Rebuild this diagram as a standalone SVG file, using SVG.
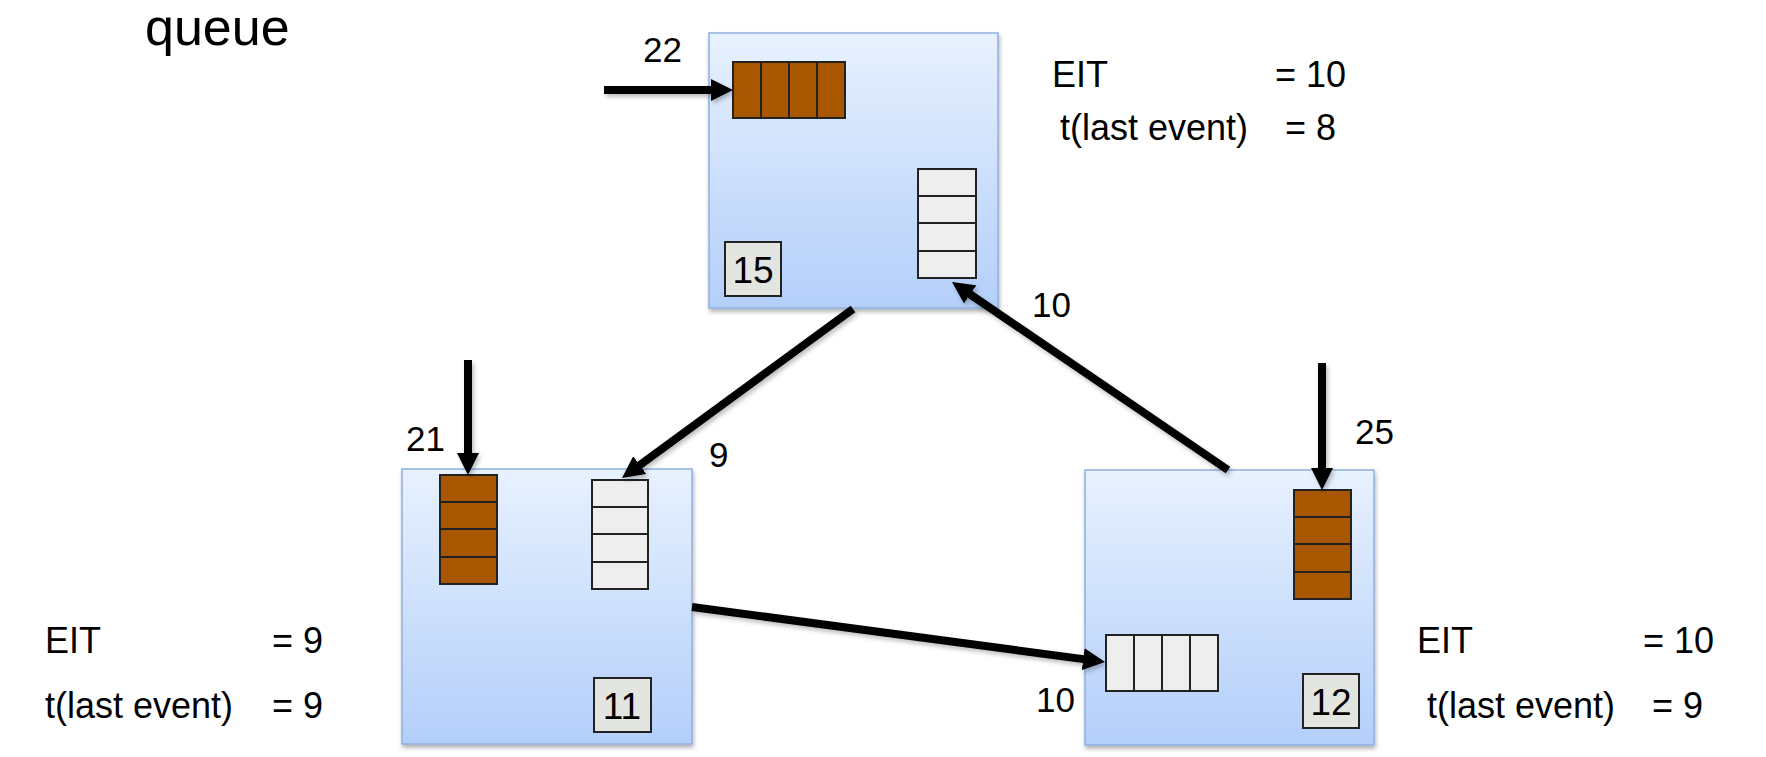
<svg xmlns="http://www.w3.org/2000/svg" width="1766" height="757" viewBox="0 0 1766 757">
<style>
text{font-family:"Liberation Sans",Arial,sans-serif;fill:#000}
.big{font-size:36px}
.num{font-size:35px}
.bn{font-size:37px}
.box{fill:url(#g);stroke:#8eb0e0;stroke-width:1.5;filter:url(#sh)}
.br{fill:#a85700;stroke:#222;stroke-width:2}
.wq{fill:#eeeeee;stroke:#222;stroke-width:2}
.lb{fill:#e3e5e0;stroke:#222;stroke-width:2}
.ar{stroke:#000;stroke-width:8;fill:none;marker-end:url(#ah);filter:url(#sh2)}
</style>
<defs>
<linearGradient id="g" x1="0" y1="0" x2="0" y2="1">
<stop offset="0" stop-color="#e8f1fe"/>
<stop offset="1" stop-color="#b3cffa"/>
</linearGradient>
<filter id="sh" x="-10%" y="-10%" width="120%" height="120%">
<feDropShadow dx="1" dy="3" stdDeviation="2" flood-opacity="0.3"/>
</filter>
<filter id="sh2" filterUnits="userSpaceOnUse" x="0" y="0" width="1766" height="757">
<feDropShadow dx="2" dy="3" stdDeviation="2" flood-opacity="0.25"/>
</filter>
<marker id="ah" markerUnits="userSpaceOnUse" markerWidth="24" markerHeight="22" refX="4" refY="11" orient="auto">
<path d="M0,0 L22,11 L0,22 z" fill="#000"/>
</marker>
</defs>

<text x="145" y="45" style="font-size:52px">queue</text>

<g id="node-top">
<rect class="box" x="709" y="33" width="289" height="275"/>
<rect class="br" x="733" y="62" width="112" height="56"/>
<path d="M761,62V118M789,62V118M817,62V118" stroke="#222" stroke-width="2"/>
<rect class="wq" x="918" y="169" width="58" height="109"/>
<path d="M918,196H976M918,223H976M918,251H976" stroke="#222" stroke-width="2"/>
<rect class="lb" x="725" y="242" width="56" height="54"/>
<text class="bn" x="753" y="283" text-anchor="middle">15</text>
</g>

<g id="node-left">
<rect class="box" x="402" y="469" width="290" height="275"/>
<rect class="br" x="440" y="475" width="57" height="109"/>
<path d="M440,502H497M440,529H497M440,557H497" stroke="#222" stroke-width="2"/>
<rect class="wq" x="592" y="480" width="56" height="109"/>
<path d="M592,507H648M592,534H648M592,562H648" stroke="#222" stroke-width="2"/>
<rect class="lb" x="594" y="678" width="57" height="54"/>
<text class="bn" x="622" y="719" text-anchor="middle">11</text>
</g>

<g id="node-right">
<rect class="box" x="1085" y="470" width="289" height="275"/>
<rect class="br" x="1294" y="490" width="57" height="109"/>
<path d="M1294,517H1351M1294,544H1351M1294,572H1351" stroke="#222" stroke-width="2"/>
<rect class="wq" x="1106" y="635" width="112" height="56"/>
<path d="M1134,635V691M1162,635V691M1190,635V691" stroke="#222" stroke-width="2"/>
<rect class="lb" x="1303" y="674" width="56" height="54"/>
<text class="bn" x="1331" y="715" text-anchor="middle">12</text>
</g>

<g id="connectors">
<line class="ar" x1="604" y1="90" x2="715" y2="90"/>
<line class="ar" x1="468" y1="360" x2="468" y2="457"/>
<line class="ar" x1="1322" y1="363" x2="1322" y2="472"/>
<line class="ar" x1="853" y1="309" x2="636.5" y2="467.4"/>
<line class="ar" x1="692" y1="607" x2="1087.2" y2="659.6"/>
<line class="ar" x1="1228" y1="470" x2="966.9" y2="292.1"/>
</g>

<g id="labels">
<text class="num" x="643" y="62">22</text>
<text class="num" x="406" y="451">21</text>
<text class="num" x="1355" y="444">25</text>
<text class="num" x="709" y="467">9</text>
<text class="num" x="1032" y="317">10</text>
<text class="num" x="1036" y="712">10</text>
</g>

<g id="info-top">
<text class="big" x="1052" y="87">EIT</text>
<text class="big" x="1275" y="87">= 10</text>
<text class="big" x="1060" y="140">t(last event)</text>
<text class="big" x="1285" y="140">= 8</text>
</g>
<g id="info-left">
<text class="big" x="45" y="653">EIT</text>
<text class="big" x="272" y="653">= 9</text>
<text class="big" x="45" y="718">t(last event)</text>
<text class="big" x="272" y="718">= 9</text>
</g>
<g id="info-right">
<text class="big" x="1417" y="653">EIT</text>
<text class="big" x="1643" y="653">= 10</text>
<text class="big" x="1427" y="718">t(last event)</text>
<text class="big" x="1652" y="718">= 9</text>
</g>
</svg>
